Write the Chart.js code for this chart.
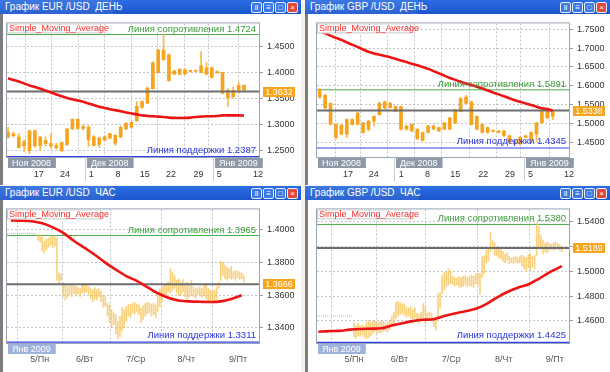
<!DOCTYPE html>
<html>
<head>
<meta charset="utf-8">
<script src="https://cdn.jsdelivr.net/npm/chart.js@4.4.0/dist/chart.umd.min.js"></script>
<style>
  body { margin: 0; width: 610px; height: 372px; background: #f6f4ea; position: relative; overflow: hidden; font-family: 'Liberation Sans', Arial, sans-serif; }
  .panel { position: absolute; background: #ffffff; }
  .title { position: absolute; left: 0; top: 0; right: 0; height: 14px; background: linear-gradient(#2c6de2, #1a55cc); color: #fff; font-size: 10px; line-height: 14px; }
  .title .cap { position: absolute; left: 0; top: 0; height: 14px; width: 113px; background: rgba(255,255,255,0.08); padding-left: 5px; box-sizing: border-box; white-space: pre; }
  .btns { position: absolute; right: 3px; top: 2px; height: 10px; }
  .btns span { display: inline-block; width: 9px; height: 9px; margin-left: 1px; border: 1px solid #e8f0ff; border-radius: 2px; background: #3b7ae6; vertical-align: top; box-sizing: content-box; color: #fff; font-size: 8px; line-height: 9px; text-align: center; }
  .btns span.x { background: #e04a3a; }
  .lb { position: absolute; left: 0; top: 14px; bottom: 0; width: 3px; background: #7d7d7d; }
  canvas { position: absolute; }
</style>
</head>
<body>

<div class="panel" style="left:0;top:0;width:301px;height:185px">
  <div class="title"><div class="cap">График EUR /USD  ДЕНЬ</div><div class="btns"><span>ll</span><span>≡</span><span>□</span><span class="x">×</span></div></div>
  <div class="lb"></div>
  <canvas id="c1" width="298" height="170" style="left:3px;top:14px"></canvas>
</div>

<div class="panel" style="left:305px;top:0;width:305px;height:185px">
  <div class="title"><div class="cap">График GBP /USD  ДЕНЬ</div><div class="btns"><span>ll</span><span>≡</span><span>□</span><span class="x">×</span></div></div>
  <div class="lb"></div>
  <canvas id="c2" width="301" height="170" style="left:4px;top:14px"></canvas>
</div>

<div class="panel" style="left:0;top:186px;width:301px;height:186px">
  <div class="title"><div class="cap">График EUR /USD  ЧАС</div><div class="btns"><span>ll</span><span>≡</span><span>□</span><span class="x">×</span></div></div>
  <div class="lb"></div>
  <canvas id="c3" width="298" height="172" style="left:3px;top:14px"></canvas>
</div>

<div class="panel" style="left:305px;top:186px;width:305px;height:186px">
  <div class="title"><div class="cap">График GBP /USD  ЧАС</div><div class="btns"><span>ll</span><span>≡</span><span>□</span><span class="x">×</span></div></div>
  <div class="lb"></div>
  <canvas id="c4" width="301" height="172" style="left:4px;top:14px"></canvas>
</div>

<script>
// ===== EUR/USD daily =====
const eurDayOpen  = [1.2858,1.2790,1.2765,1.2590,1.2500,1.2880,1.2600,1.2700,1.2640,1.2600,1.2500,1.2615,1.2920,1.3100,1.2925,1.2950,1.2600,1.2740,1.2700,1.2740,1.2796,1.2765,1.2920,1.2950,1.3073,1.3330,1.3411,1.3690,1.4000,1.4427,1.4335,1.3965,1.4058,1.3965,1.4027,1.4022,1.4120,1.3965,1.4088,1.4015,1.3996,1.3658,1.3535,1.3658,1.3750];
const eurDayHigh  = [1.2950,1.2860,1.2827,1.2704,1.2895,1.2895,1.2778,1.2765,1.2827,1.2640,1.2670,1.2930,1.3110,1.3115,1.2990,1.2981,1.2790,1.2760,1.2790,1.2840,1.2810,1.2970,1.3040,1.3060,1.3442,1.3460,1.3720,1.4200,1.4440,1.4734,1.4350,1.4040,1.4070,1.4065,1.4035,1.4040,1.4396,1.4181,1.4100,1.4030,1.4000,1.3688,1.3719,1.3811,1.3760];
const eurDayLow   = [1.2735,1.2760,1.2550,1.2488,1.2445,1.2570,1.2507,1.2581,1.2550,1.2530,1.2480,1.2600,1.2900,1.2905,1.2895,1.2581,1.2590,1.2560,1.2690,1.2720,1.2600,1.2750,1.2900,1.2930,1.3060,1.3310,1.3400,1.3680,1.3990,1.4230,1.3830,1.3950,1.3950,1.3960,1.4010,1.4015,1.3990,1.3950,1.3890,1.3985,1.3590,1.3350,1.3504,1.3596,1.3640];
const eurDayClose = [1.2765,1.2830,1.2560,1.2670,1.2880,1.2590,1.2760,1.2635,1.2585,1.2555,1.2655,1.2915,1.3100,1.2925,1.2960,1.2705,1.2765,1.2615,1.2765,1.2827,1.2645,1.2950,1.3024,1.3042,1.3350,1.3440,1.3700,1.4180,1.4427,1.4242,1.3843,1.4027,1.3965,1.4050,1.4020,1.4030,1.3996,1.4088,1.3904,1.3990,1.3596,1.3504,1.3658,1.3750,1.3665];
const eurDaySma   = [1.3885,1.3855,1.3824,1.3787,1.3750,1.3719,1.3688,1.3652,1.3615,1.3578,1.3541,1.3510,1.3485,1.3461,1.3436,1.3405,1.3374,1.3344,1.3319,1.3294,1.3276,1.3257,1.3233,1.3214,1.3196,1.3177,1.3165,1.3159,1.3153,1.3147,1.3134,1.3128,1.3128,1.3128,1.3134,1.3147,1.3153,1.3159,1.3159,1.3165,1.3177,1.3177,1.3177,1.3177,1.3171];
const eurDayTicks = [5.7, 10.6, 15.5, 20.5, 25.5, 30.4, 35.5, 39.4, 46.6];
const eurDayTickLabels = ['17', '24', '1', '8', '15', '22', '29', '5', '12'];
const eurDayPrices = [1.25, 1.30, 1.35, 1.40, 1.45];
const eurDayMonthAt = [-0.2, 14.5, 38.5];
const eurDayMonths = ['Ноя 2008', 'Дек 2008', 'Янв 2009'];
const eurDayLevels = { res: 1.4724, sup: 1.2387, last: 1.3632 };

// ===== GBP/USD daily =====
const gbpDayOpen  = [1.5700,1.5743,1.5529,1.4971,1.4714,1.4714,1.5100,1.4971,1.5014,1.4843,1.5057,1.5229,1.5571,1.5417,1.5443,1.5443,1.4843,1.4971,1.4843,1.4757,1.4757,1.4929,1.4886,1.4843,1.4843,1.5014,1.5314,1.5700,1.5571,1.5186,1.4971,1.4886,1.4817,1.4800,1.4800,1.4671,1.4543,1.4457,1.4629,1.4543,1.4714,1.5014,1.5400,1.5186];
const gbpDayHigh  = [1.5931,1.5770,1.5550,1.4990,1.4970,1.5120,1.5120,1.5290,1.5030,1.5080,1.5200,1.5571,1.5590,1.5560,1.5460,1.5460,1.4950,1.4990,1.4860,1.4770,1.4950,1.4960,1.4900,1.5030,1.5160,1.5380,1.5700,1.5743,1.5590,1.5200,1.4990,1.4900,1.4830,1.4810,1.4810,1.4690,1.4560,1.4650,1.4690,1.4780,1.5030,1.5357,1.5420,1.5360];
const gbpDayLow   = [1.5657,1.5383,1.4960,1.4586,1.4700,1.4629,1.4950,1.4960,1.4740,1.4800,1.4929,1.5210,1.5380,1.5400,1.5300,1.4820,1.4820,1.4780,1.4570,1.4530,1.4740,1.4830,1.4780,1.4830,1.4830,1.5000,1.5300,1.5510,1.4950,1.4820,1.4740,1.4740,1.4770,1.4740,1.4650,1.4480,1.4414,1.4414,1.4610,1.4480,1.4520,1.5000,1.5130,1.5100];
const gbpDayClose = [1.5897,1.5400,1.4971,1.4629,1.4954,1.5100,1.4971,1.5271,1.4757,1.5057,1.5186,1.5529,1.5400,1.5529,1.5314,1.4843,1.4929,1.4800,1.4586,1.4543,1.4929,1.4843,1.4800,1.5014,1.5143,1.5357,1.5657,1.5529,1.4971,1.4843,1.4757,1.4757,1.4783,1.4757,1.4671,1.4500,1.4457,1.4629,1.4671,1.4757,1.5014,1.5314,1.5143,1.5314];
const gbpDaySma   = [1.7440,1.7389,1.7329,1.7269,1.7217,1.7149,1.7089,1.7029,1.6960,1.6900,1.6857,1.6823,1.6789,1.6754,1.6711,1.6669,1.6626,1.6583,1.6540,1.6497,1.6446,1.6386,1.6326,1.6266,1.6206,1.6154,1.6103,1.6060,1.6017,1.5974,1.5923,1.5871,1.5820,1.5769,1.5717,1.5666,1.5614,1.5571,1.5529,1.5486,1.5443,1.5400,1.5374,1.5340];
const gbpDayTicks = [5.2, 9.95, 15.05, 19.9, 25.0, 30.2, 35.1, 38.9, 46.0];
const gbpDayTickLabels = ['17', '24', '1', '8', '15', '22', '29', '5', '12'];
const gbpDayPrices = [1.45, 1.50, 1.55, 1.60, 1.65, 1.70, 1.75];
const gbpDayMonthAt = [-0.5, 13.9, 37.8];
const gbpDayMonths = ['Ноя 2008', 'Дек 2008', 'Янв 2009'];
const gbpDayLevels = { res: 1.5891, sup: 1.4345, last: 1.5338 };

// ===== EUR/USD hourly (bars from hour 0 = start of 5/Пн) =====
const eurHourLow  = [1.3935,1.3925,1.3870,1.3858,1.3880,1.3895,1.3905,1.3890,1.3900,1.3690,1.3672,1.3690,1.3590,1.3570,1.3585,1.3600,1.3590,1.3610,1.3595,1.3605,1.3590,1.3615,1.3610,1.3620,1.3605,1.3580,1.3560,1.3575,1.3570,1.3590,1.3560,1.3525,1.3530,1.3470,1.3430,1.3400,1.3420,1.3360,1.3330,1.3345,1.3380,1.3400,1.3440,1.3470,1.3460,1.3490,1.3485,1.3500,1.3480,1.3430,1.3450,1.3470,1.3485,1.3490,1.3470,1.3480,1.3460,1.3500,1.3530,1.3560,1.3590,1.3600,1.3620,1.3610,1.3630,1.3640,1.3610,1.3595,1.3600,1.3620,1.3590,1.3570,1.3585,1.3600,1.3590,1.3580,1.3600,1.3595,1.3585,1.3600,1.3575,1.3565,1.3560,1.3570,1.3560,1.3575,1.3640,1.3690,1.3720,1.3700,1.3690,1.3705,1.3695,1.3700,1.3690,1.3705,1.3695,1.3700,1.3680];
const eurHourHigh = [1.3972,1.3965,1.3955,1.3930,1.3945,1.3950,1.3958,1.3962,1.3955,1.3950,1.3735,1.3728,1.3675,1.3660,1.3650,1.3665,1.3655,1.3660,1.3650,1.3645,1.3640,1.3660,1.3672,1.3668,1.3650,1.3640,1.3630,1.3645,1.3635,1.3640,1.3625,1.3600,1.3590,1.3550,1.3540,1.3510,1.3490,1.3480,1.3440,1.3470,1.3525,1.3510,1.3530,1.3545,1.3540,1.3550,1.3555,1.3545,1.3540,1.3520,1.3535,1.3548,1.3555,1.3550,1.3545,1.3550,1.3540,1.3600,1.3640,1.3645,1.3660,1.3665,1.3680,1.3760,1.3740,1.3720,1.3690,1.3700,1.3680,1.3695,1.3670,1.3680,1.3670,1.3690,1.3650,1.3640,1.3645,1.3650,1.3640,1.3660,1.3670,1.3640,1.3630,1.3625,1.3630,1.3650,1.3680,1.3808,1.3800,1.3785,1.3770,1.3760,1.3775,1.3745,1.3750,1.3748,1.3740,1.3735,1.3720];
const eurHourSmaAt = [-13,-8,-3,2,7,12,17,22,27,32,37,42,47,52,57,62,67,72,77,82,87,92,97];
const eurHourSma   = [1.4058,1.4056,1.4052,1.4040,1.4015,1.3981,1.3933,1.3891,1.3847,1.3799,1.3756,1.3716,1.3687,1.3649,1.3611,1.3584,1.3567,1.3561,1.3559,1.3557,1.3561,1.3576,1.3599];
const eurHourTicks = [0.8, 22.2, 46.5, 70.6, 95.2];
const eurHourTickLabels = ['5/Пн', '6/Вт', '7/Ср', '8/Чт', '9/Пт'];
const eurHourPrices = [1.34, 1.36, 1.38, 1.40];
const eurHourGap = 1.3977;
const eurHourLevels = { res: 1.3965, sup: 1.3311, last: 1.3666 };

// ===== GBP/USD hourly =====
const gbpHourLow  = [1.4470,1.4460,1.4480,1.4475,1.4490,1.4470,1.4455,1.4465,1.4480,1.4500,1.4510,1.4495,1.4505,1.4500,1.4515,1.4520,1.4510,1.4530,1.4560,1.4570,1.4620,1.4640,1.4650,1.4660,1.4645,1.4630,1.4640,1.4620,1.4615,1.4625,1.4590,1.4580,1.4600,1.4600,1.4580,1.4600,1.4610,1.4595,1.4550,1.4525,1.4630,1.4700,1.4820,1.4850,1.4880,1.4890,1.4900,1.4895,1.4880,1.4890,1.4875,1.4870,1.4880,1.4890,1.4875,1.4885,1.4880,1.4870,1.4900,1.4890,1.4815,1.4950,1.4980,1.5070,1.5080,1.5160,1.5180,1.5130,1.5125,1.5110,1.5100,1.5080,1.5070,1.5090,1.5060,1.5070,1.5060,1.5075,1.5065,1.5070,1.5040,1.5020,1.5000,1.5030,1.5010,1.5035,1.5020,1.5130,1.5200,1.5180,1.5140,1.5160,1.5150,1.5170,1.5180,1.5165,1.5175,1.5180,1.5170,1.5160];
const gbpHourHigh = [1.4585,1.4560,1.4575,1.4560,1.4565,1.4550,1.4590,1.4600,1.4585,1.4600,1.4595,1.4580,1.4590,1.4600,1.4595,1.4580,1.4590,1.4600,1.4640,1.4670,1.4750,1.4755,1.4745,1.4740,1.4735,1.4710,1.4700,1.4715,1.4690,1.4705,1.4660,1.4650,1.4670,1.4740,1.4720,1.4665,1.4670,1.4660,1.4620,1.4615,1.4820,1.4830,1.4970,1.4990,1.5000,1.5020,1.5005,1.4960,1.4950,1.4945,1.4955,1.4950,1.4960,1.4965,1.4950,1.4960,1.4970,1.4960,1.4980,1.4985,1.4980,1.5120,1.5125,1.5170,1.5180,1.5316,1.5250,1.5230,1.5200,1.5190,1.5180,1.5160,1.5140,1.5150,1.5120,1.5110,1.5115,1.5120,1.5110,1.5125,1.5130,1.5120,1.5110,1.5135,1.5140,1.5120,1.5130,1.5392,1.5360,1.5290,1.5250,1.5230,1.5240,1.5225,1.5220,1.5230,1.5235,1.5225,1.5215,1.5200];
const gbpHourSmaAt = [-17,-12,-7,-2,3,8,13,18,23,28,33,38,43,48,53,58,63,68,73,78,83,88,93,99];
const gbpHourSma   = [1.4511,1.4516,1.4518,1.4528,1.4534,1.4536,1.4539,1.4562,1.4580,1.4597,1.4608,1.4613,1.4638,1.4659,1.4677,1.4697,1.4735,1.4787,1.4833,1.4868,1.4894,1.4940,1.4991,1.5042];
const gbpHourTicks = [0, 21.7, 46.3, 71.3, 95.6];
const gbpHourTickLabels = ['5/Пн', '6/Вт', '7/Ср', '8/Чт', '9/Пт'];
const gbpHourPrices = [1.46, 1.48, 1.50, 1.52, 1.54];
const gbpHourGap = 1.4638;
const gbpHourLevels = { res: 1.5380, sup: 1.4425, last: 1.5189 };

const FONT = "'Liberation Sans', Arial, sans-serif";

// Draw the extra bits the terminal puts on its charts
const overlay = {
  id: 'overlay',
  afterDatasetsDraw(chart, args, o) {
    const { ctx, chartArea: a, scales: { x, y } } = chart;
    ctx.save();
    ctx.strokeStyle = '#9ba5b3';
    ctx.lineWidth = 1;
    ctx.strokeRect(a.left - 0.5, a.top - 0.5, a.right - a.left + 1, a.bottom - a.top + 1);

    // month boxes + separators
    ctx.font = '9px ' + FONT;
    ctx.textBaseline = 'middle';
    o.monthAt.forEach((m, i) => {
      const px = Math.max(a.left, Math.round(x.getPixelForValue(m)));
      if (px > a.left + 2) {
        ctx.strokeStyle = '#c9ccd2';
        ctx.beginPath(); ctx.moveTo(px - 0.5, a.bottom); ctx.lineTo(px - 0.5, a.bottom + 24); ctx.stroke();
      }
      const w = ctx.measureText(o.months[i]).width + 9;
      ctx.fillStyle = o.monthColor;
      ctx.fillRect(px + 1, a.bottom + 1, w, 10);
      ctx.fillStyle = '#ffffff';
      ctx.textAlign = 'left';
      ctx.fillText(o.months[i], px + 5, a.bottom + 6.5);
    });

    // Simple_Moving_Average caption
    ctx.fillStyle = '#ffffff';
    ctx.fillRect(a.left, a.top, 94, 10);
    ctx.strokeStyle = '#c8c8c8';
    ctx.strokeRect(a.left + 0.5, a.top + 0.5, 93, 9);
    ctx.fillStyle = '#ff2a2a';
    ctx.textAlign = 'left';
    ctx.fillText('Simple_Moving_Average', a.left + 2, a.top + 5.5);

    // resistance / support captions
    ctx.font = '9.5px ' + FONT;
    ctx.textAlign = 'right';
    ctx.textBaseline = 'alphabetic';
    const ry = y.getPixelForValue(o.res);
    ctx.fillStyle = '#3b9b3b';
    ctx.fillText('Линия сопротивления ' + o.res.toFixed(4), a.right - 3, ry - 3);
    const sy = y.getPixelForValue(o.sup);
    ctx.fillStyle = '#2a35e0';
    const sBase = sy + 10 <= a.bottom ? sy + 9 : sy - 4;
    ctx.fillText('Линия поддержки ' + o.sup.toFixed(4), a.right - 3, sBase);

    // last price tag
    const ly = Math.round(y.getPixelForValue(o.last));
    ctx.fillStyle = '#f7a51d';
    ctx.fillRect(a.right + 4, ly - 5, 32, 10);
    ctx.fillStyle = '#ffffff';
    ctx.font = '9px ' + FONT;
    ctx.textAlign = 'center';
    ctx.textBaseline = 'middle';
    ctx.fillText(o.last.toFixed(4), a.right + 20, ly + 0.5);
    ctx.restore();
  }
};

function levelLine(v, color, width, xMin, xMax, order) {
  return { type: 'line', data: [{ x: xMin, y: v }, { x: xMax, y: v }], borderColor: color, borderWidth: width, pointRadius: 0, order };
}

function makeChart(id, cfg) {
  const datasets = [
    levelLine(cfg.levels.res, '#4cae4c', 1, cfg.xMin, cfg.xMax, 8),
    levelLine(cfg.levels.sup, '#3340f0', 1.2, cfg.xMin, cfg.xMax, 8),
    levelLine(cfg.levels.last, '#6e6e6e', 2, cfg.xMin, cfg.xMax, 1),
    ...cfg.bars,
    { type: 'line', data: cfg.sma, borderColor: '#ee1414', borderWidth: 2.6, pointRadius: 0, tension: 0.3, order: 0 }
  ];
  if (cfg.gap) datasets.push({ type: 'line', data: cfg.gap, borderColor: '#f7b23a', borderWidth: 1, borderDash: [1, 1], pointRadius: 0, order: 7 });

  return new Chart(document.getElementById(id), {
    type: 'bar',
    data: { datasets },
    options: {
      responsive: false,
      animation: false,
      events: [],
      layout: { padding: { left: cfg.padLeft, top: cfg.padTop, right: 0, bottom: 0 } },
      plugins: {
        legend: { display: false },
        tooltip: { enabled: false },
        overlay: { monthAt: cfg.monthAt, months: cfg.months, monthColor: cfg.monthColor, res: cfg.levels.res, sup: cfg.levels.sup, last: cfg.levels.last }
      },
      scales: {
        x: {
          type: 'linear', min: cfg.xMin, max: cfg.xMax, offset: false,
          afterBuildTicks: s => { s.ticks = cfg.xTicks.map(v => ({ value: v })); },
          afterFit: s => { s.height = cfg.xHeight; },
          grid: { color: '#c4c4c4', drawTicks: false },
          border: { display: false, dash: [2, 2] },
          ticks: { autoSkip: false, maxRotation: 0, padding: cfg.xPad, color: cfg.xColor, font: { family: FONT, size: 9 }, callback: (v, i) => cfg.xLabels[i] }
        },
        y: {
          position: 'right', min: cfg.yMin, max: cfg.yMax,
          afterBuildTicks: s => { s.ticks = cfg.yTicks.map(v => ({ value: v })); },
          afterFit: s => { s.width = cfg.yWidth; },
          grid: { color: '#c4c4c4', tickColor: '#9a9a9a', tickLength: 4 },
          border: { display: false, dash: [2, 2] },
          ticks: { padding: 4, color: '#333333', font: { family: FONT, size: 9 }, callback: v => v.toFixed(4) }
        }
      }
    },
    plugins: [overlay]
  });
}

function candles(open, high, low, close) {
  return [
    { type: 'bar', data: high.map((h, i) => ({ x: i, y: [low[i], h] })), backgroundColor: '#f8b744', barThickness: 1, grouped: false, order: 3 },
    { type: 'bar', data: open.map((op, i) => ({ x: i, y: [Math.min(op, close[i]), Math.max(op, close[i])] })), backgroundColor: '#f6a41e', barThickness: 3, minBarLength: 1, grouped: false, order: 2 }
  ];
}

function hourBars(low, high) {
  return [{ type: 'bar', data: high.map((h, i) => ({ x: i, y: [low[i], h] })), backgroundColor: 'rgba(250,192,80,0.75)', barThickness: 1, minBarLength: 1, grouped: false, order: 3 }];
}

makeChart('c1', {
  padLeft: 4, padTop: 4, yWidth: 42, xHeight: 27, xPad: 12, xColor: '#333333',
  xMin: -0.2, xMax: 46.8, xTicks: eurDayTicks, xLabels: eurDayTickLabels,
  yMin: 1.2380, yMax: 1.4937, yTicks: eurDayPrices,
  bars: candles(eurDayOpen, eurDayHigh, eurDayLow, eurDayClose),
  sma: eurDaySma.map((v, i) => ({ x: i, y: v })),
  levels: eurDayLevels, monthAt: eurDayMonthAt, months: eurDayMonths, monthColor: '#8e99a8'
});

makeChart('c2', {
  padLeft: 8, padTop: 4, yWidth: 41, xHeight: 27, xPad: 12, xColor: '#333333',
  xMin: -0.5, xMax: 46.0, xTicks: gbpDayTicks, xLabels: gbpDayTickLabels,
  yMin: 1.4106, yMax: 1.7654, yTicks: gbpDayPrices,
  bars: candles(gbpDayOpen, gbpDayHigh, gbpDayLow, gbpDayClose),
  sma: gbpDaySma.map((v, i) => ({ x: i, y: v })),
  levels: gbpDayLevels, monthAt: gbpDayMonthAt, months: gbpDayMonths, monthColor: '#8e99a8'
});

makeChart('c3', {
  padLeft: 4, padTop: 3, yWidth: 42, xHeight: 29, xPad: 11, xColor: '#555555',
  xMin: -14.8, xMax: 105.2, xTicks: eurHourTicks, xLabels: eurHourTickLabels,
  yMin: 1.3306, yMax: 1.4125, yTicks: eurHourPrices,
  bars: hourBars(eurHourLow, eurHourHigh),
  sma: eurHourSma.map((v, i) => ({ x: eurHourSmaAt[i], y: v })),
  gap: [{ x: -14.8, y: eurHourGap }, { x: -0.5, y: eurHourGap }],
  levels: eurHourLevels, monthAt: [-14.8], months: ['Янв 2009'], monthColor: '#9fb2dc'
});

makeChart('c4', {
  padLeft: 8, padTop: 3, yWidth: 41, xHeight: 29, xPad: 11, xColor: '#555555',
  xMin: -17.6, xMax: 102.4, xTicks: gbpHourTicks, xLabels: gbpHourTickLabels,
  yMin: 1.4420, yMax: 1.5502, yTicks: gbpHourPrices,
  bars: hourBars(gbpHourLow, gbpHourHigh),
  sma: gbpHourSma.map((v, i) => ({ x: gbpHourSmaAt[i], y: v })),
  gap: [{ x: -17.6, y: gbpHourGap }, { x: -0.5, y: gbpHourGap }],
  levels: gbpHourLevels, monthAt: [-17.6], months: ['Янв 2009'], monthColor: '#9fb2dc'
});
</script>
</body>
</html>
